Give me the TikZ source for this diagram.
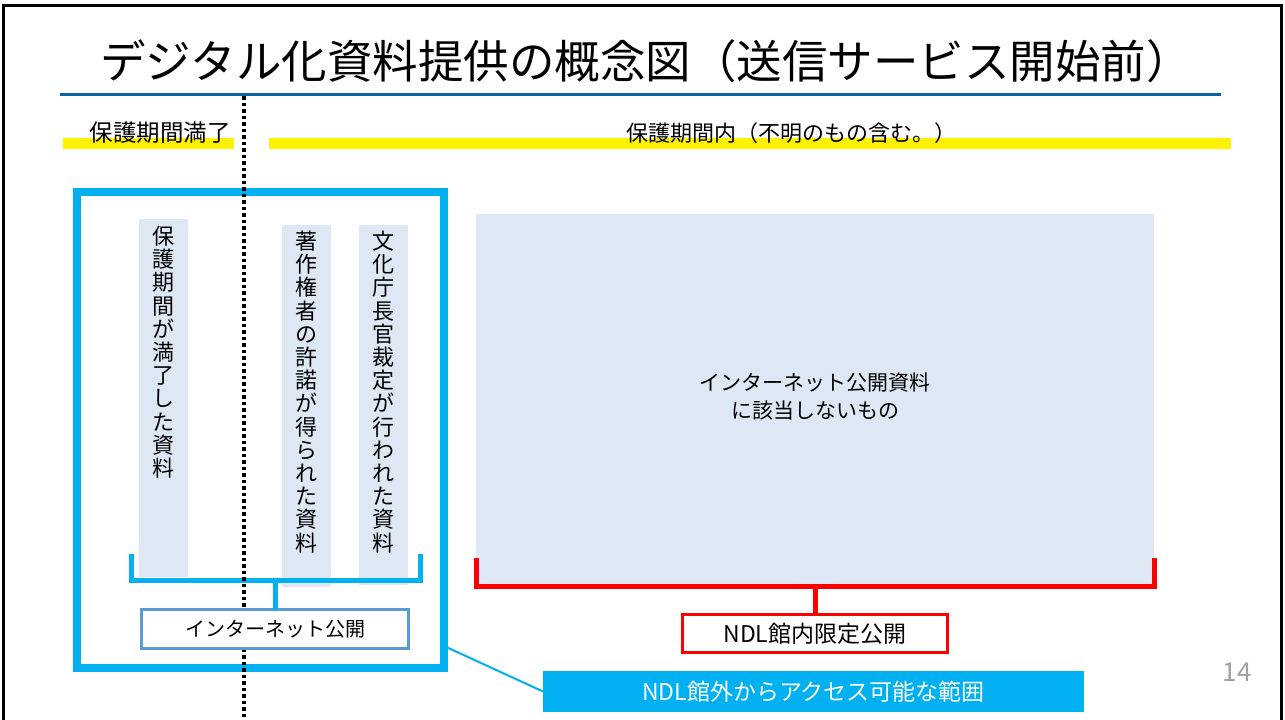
\documentclass[tikz,border=0pt]{standalone}
\usepackage{fontspec}
\setmainfont{Noto Sans CJK JP}
\usetikzlibrary{positioning}
\definecolor{rulebl}{HTML}{0B64A0}
\definecolor{reachcy}{HTML}{00B0F0}
\definecolor{palebl}{HTML}{DEE8F4}
\definecolor{webbl}{HTML}{5B9BD5}
\definecolor{pagegr}{HTML}{A0A0A0}

\begin{document}
\begin{tikzpicture}[x=1pt,y=-1pt, outer sep=0pt,
    pale/.style={fill=palebl, inner sep=0pt, anchor=north west},
    hilite/.style={fill=yellow, inner sep=0pt, anchor=north west, minimum height=11},
    toptext/.style={inner sep=0pt},
    vtext/.style={inner sep=0pt, anchor=north, align=center, font=\fontsize{22}{23.2}\selectfont},
    openbox/.style={draw, line width=3, fill=white, inner sep=0pt, anchor=north west},
    cyanline/.style={reachcy, line width=5},
    redline/.style={red, line width=5}]
  \useasboundingbox (0,0) rectangle (1285,720);

  % slide frame and title
  \draw [line width=2.5] (3.5,730) -- (3.5,5.5) -- (1281.5,5.5) -- (1281.5,730);
  \node [inner sep=0pt, font=\fontsize{45.5}{45.5}\selectfont] (title) at (646,61) {デジタル化資料提供の概念図（送信サービス開始前）};
  \draw [rulebl, line width=3] (60,94) -- (1221,94);

  % period headings
  \node [hilite, minimum width=171] (overbar) at (63,138) {};
  \node [hilite, minimum width=962] (inbar) at (269,138) {};
  \node [toptext, font=\fontsize{23.5}{23.5}\selectfont] (overtxt) at (160,133) {保護期間満了};
  \node [toptext, font=\fontsize{22}{22}\selectfont] (intxt) at (791,133) {保護期間内（不明のもの含む。）};

  % material columns
  \node [pale, minimum width=49, minimum height=358] (expcol) at (139,219) {};
  \node [pale, minimum width=49, minimum height=362] (permcol) at (282,225) {};
  \node [pale, minimum width=49, minimum height=360] (rulecol) at (359,225) {};
  \node [vtext] (exptxt) at (163.5,226) {保\\護\\期\\間\\が\\満\\了\\し\\た\\資\\料};
  \node [vtext] (permtxt) at (306.5,231) {著\\作\\権\\者\\の\\許\\諾\\が\\得\\ら\\れ\\た\\資\\料};
  \node [vtext] (ruletxt) at (383.5,231) {文\\化\\庁\\長\\官\\裁\\定\\が\\行\\わ\\れ\\た\\資\\料};

  \node [pale, minimum width=678, minimum height=372] (restrict) at (476,214) {};
  \node [align=center, inner sep=0pt, font=\fontsize{21}{28}\selectfont] (restricttxt) at (815,397) {インターネット公開資料\\に該当しないもの};

  % outside access range
  \node [draw=reachcy, line width=8, minimum width=367, minimum height=476.5, inner sep=0pt, anchor=north west] (reach) at (77,191.5) {};

  % brackets
  \draw [cyanline] (131.5,554) -- (131.5,580) -- (420.5,580) -- (420.5,554);
  \coordinate (webfork) at (275,580);
  \draw [redline] (476.5,558) -- (476.5,586) -- (1154,586) -- (1154,558);
  \coordinate (ndlfork) at (815,586);

  \draw [line width=3.5, dash pattern=on 3.5pt off 3pt] (244,96) -- (244,720);

  \node [openbox, draw=webbl, minimum width=267, minimum height=39, font=\fontsize{20}{20}\selectfont] (web) at (141.5,609.5) {インターネット公開};
  \draw [cyanline] (webfork) -- (webfork |- web.north);
  \node [openbox, draw=red, minimum width=265, minimum height=38, font=\fontsize{23}{23}\selectfont] (ndl) at (682.5,614.5) {NDL館内限定公開};
  \draw [redline] (ndlfork) -- (ndlfork |- ndl.north);

  \node [fill=reachcy, text=white, minimum width=541, minimum height=41, inner sep=0pt, anchor=north west, font=\fontsize{23}{23}\selectfont] (reachtxt) at (543,671) {NDL館外からアクセス可能な範囲};
  \coordinate (reachpt) at (444,646);
  \draw [reachcy, line width=2] (reachpt) -- (reachtxt.west);

  \node [text=pagegr, font=\fontsize{26}{26}\selectfont] (pagenum) at (1237,672) {14};
\end{tikzpicture}
\end{document}
